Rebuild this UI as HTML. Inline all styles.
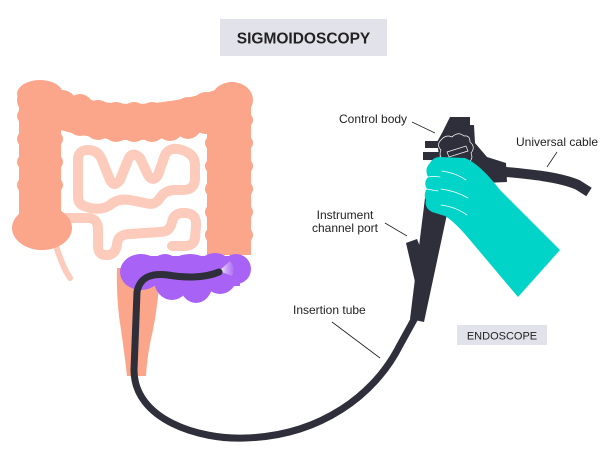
<!DOCTYPE html>
<html><head><meta charset="utf-8"><style>
html,body{margin:0;padding:0;background:#fff;}
svg{display:block;}
text{font-family:"Liberation Sans",Arial,sans-serif;fill:#222;}
</style></head><body>
<svg width="600" height="457" viewBox="0 0 600 457" xmlns="http://www.w3.org/2000/svg">
<defs>
<linearGradient id="glow" x1="0" y1="0" x2="1" y2="0">
<stop offset="0" stop-color="#ffffff"/>
<stop offset="1" stop-color="#c79af8" stop-opacity="0.3"/>
</linearGradient>
</defs>
<!-- title -->
<rect x="220" y="19" width="167" height="37" fill="#e2e2eb"/>
<text x="303.5" y="43.5" font-size="15.5" font-weight="bold" text-anchor="middle" fill="#1a1a1a">SIGMOIDOSCOPY</text>

<!-- small intestine -->
<g fill="none" stroke="#fccbbc" stroke-width="10" stroke-linecap="round" stroke-linejoin="round">
<path d="M 66 218 L 88 218 Q 98 218 98 230 L 98 246 Q 98 256 108 255 Q 116 254 117 244 Q 118 234 130 234 L 160 232 Q 170 232 172 222 Q 174 212 186 213 Q 197 214 196 226 L 195 238 Q 194 246 184 246 L 172 246"/>
<path d="M 84 206 Q 78 204 78 196 L 78 160 Q 78 150 88 150 Q 98 150 102 160 L 110 180 Q 114 188 120 180 L 128 160 Q 132 150 140 158 L 148 175 Q 153 183 158 175 L 165 155 Q 170 146 182 150 Q 195 154 195 165 L 195 178 Q 195 190 183 190 L 175 190 Q 165 190 160 198 Q 155 206 145 203 L 130 200 Q 118 198 110 205 Q 100 212 84 206"/>
<path d="M 56 246 Q 60 258 63 265 Q 66 272 70 278" stroke-width="6"/>
</g>

<!-- colon -->
<g fill="#fba68a">
<!-- ascending -->
<rect x="19" y="90" width="42" height="125"/>
<ellipse cx="40" cy="94" rx="23" ry="14"/>
<ellipse cx="40" cy="116" rx="23" ry="13"/>
<ellipse cx="40" cy="139" rx="23" ry="13"/>
<ellipse cx="40" cy="162" rx="23" ry="13"/>
<ellipse cx="40" cy="185" rx="23" ry="13"/>
<ellipse cx="42" cy="228" rx="30" ry="22"/>
<!-- transverse -->
<path d="M 40 104 Q 130 140 230 104" fill="none" stroke="#fba68a" stroke-width="36"/>
<ellipse cx="40" cy="100" rx="23" ry="18"/>
<ellipse cx="62" cy="110" rx="17" ry="20"/>
<ellipse cx="80" cy="115" rx="16" ry="21"/>
<ellipse cx="98" cy="120" rx="16" ry="20"/>
<ellipse cx="116" cy="122" rx="16" ry="20"/>
<ellipse cx="134" cy="122" rx="16" ry="20"/>
<ellipse cx="152" cy="122" rx="16" ry="20"/>
<ellipse cx="170" cy="121" rx="16" ry="20"/>
<ellipse cx="188" cy="118" rx="16" ry="21"/>
<ellipse cx="206" cy="113" rx="17" ry="21"/>
<ellipse cx="232" cy="100" rx="21" ry="18"/>
<!-- descending -->
<rect x="207" y="95" width="44" height="160"/>
<ellipse cx="229" cy="120" rx="24" ry="13"/>
<ellipse cx="229" cy="143" rx="24" ry="13"/>
<ellipse cx="229" cy="166" rx="24" ry="13"/>
<ellipse cx="229" cy="189" rx="24" ry="13"/>
<ellipse cx="229" cy="212" rx="24" ry="13"/>
<ellipse cx="229" cy="235" rx="24" ry="13"/>
<!-- rectum -->
<path d="M 117 268 L 160 268 Q 159 300 153 330 Q 147 355 146 376 L 127 376 Q 124 350 121 330 Q 116 300 117 268 Z"/>
</g>

<!-- sigmoid -->
<g fill="#a862f6">
<rect x="135" y="256" width="105" height="30"/>
<ellipse cx="141" cy="272" rx="21" ry="18"/>
<ellipse cx="165" cy="272" rx="16" ry="18"/>
<ellipse cx="172" cy="280" rx="18" ry="20"/>
<ellipse cx="196" cy="282" rx="17" ry="21"/>
<ellipse cx="220" cy="276" rx="17" ry="18"/>
<ellipse cx="236" cy="269" rx="15" ry="15"/>
<ellipse cx="190" cy="264" rx="18" ry="10"/>
<ellipse cx="215" cy="263" rx="14" ry="10"/>
</g>
<path d="M 219 271 L 230 261 Q 236 268 232 276 Z" fill="url(#glow)"/>

<!-- insertion tube -->
<path d="M 219 272 C 205 278, 185 278, 168 275 C 153 273, 140 276, 137 292 L 134 370 C 134 420, 200 440, 245 438 C 320 436, 375 395, 400 345 L 416 316" fill="none" stroke="#2e2f3a" stroke-width="7" stroke-linecap="round"/>

<!-- shaft -->
<path d="M 426 190 L 453 186 L 424 322 L 410 319 Z" fill="#2e2f3a"/>
<path d="M 406 243 L 417 239 L 426 262 L 416 286 Z" fill="#2e2f3a"/>

<!-- universal cable -->
<path d="M 495 171 C 530 174, 560 177, 578 185 L 589 192" fill="none" stroke="#2e2f3a" stroke-width="10"/>
<!-- control body -->
<path d="M 450 117 L 470 117 L 470 125 L 474 125 L 475 143 L 487 157 L 506 163 L 507 182 L 484 183 L 462 170 L 441 168 L 437 142 L 442 133 Z" fill="#2e2f3a"/>
<rect x="425" y="141" width="15" height="7" fill="#2e2f3a"/>
<rect x="423" y="152" width="16" height="8" fill="#2e2f3a"/>
<g fill="none" stroke="#ffffff" stroke-width="0.7">
<path d="M 441 140 Q 446 134 452 137 Q 458 131 464 136 Q 470 135 470 142 Q 476 147 471 153 Q 474 160 467 163 Q 462 168 455 164 Q 448 167 445 161 Q 438 157 441 150 Q 436 145 441 140 Z"/>
<path d="M 447 152 L 466 146 L 468 151 L 449 157 Z"/>
</g>

<!-- hand -->
<path d="M 440 157 L 465 158 Q 480 164 500 190 L 560 250 L 518 297 L 470 240 Q 455 222 445 216 L 432 212 Q 424 208 426 200 Q 423 195 427 189 Q 423 183 428 177 Q 424 169 430 163 Q 433 157 440 157 Z" fill="#00d3c8"/>
<g fill="none" stroke="#ffffff" stroke-width="0.8" stroke-linecap="round">
<path d="M 442 171 Q 456 173 466 180"/>
<path d="M 441 189 Q 456 191 468 198"/>
<path d="M 441 205 Q 456 207 467 215"/>
<path d="M 428 177 Q 433 176 440 177"/>
<path d="M 427 189 Q 432 190 438 191"/>
</g>

<!-- labels -->
<g font-size="12">
<text x="339" y="123">Control body</text>
<text x="516" y="146">Universal cable</text>
<text x="345" y="219" text-anchor="middle">Instrument</text>
<text x="345" y="232" text-anchor="middle">channel port</text>
<text x="293" y="314">Insertion tube</text>
</g>
<g stroke="#222" stroke-width="0.8">
<line x1="412" y1="122" x2="435" y2="133"/>
<line x1="557" y1="152" x2="547" y2="167"/>
<line x1="385" y1="223" x2="407" y2="236"/>
<line x1="332" y1="322" x2="380" y2="358"/>
</g>
<rect x="457" y="325" width="90" height="20" fill="#e2e2eb"/>
<text x="502" y="339.5" font-size="11" text-anchor="middle">ENDOSCOPE</text>
</svg>
</body></html>
